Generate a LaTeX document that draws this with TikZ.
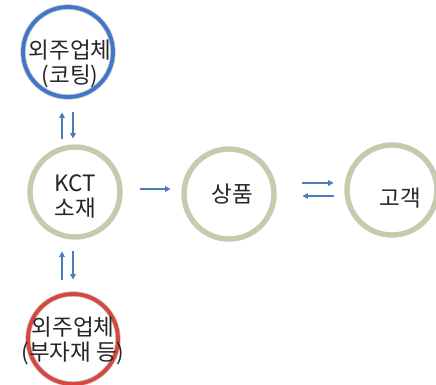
\documentclass[tikz,border=0pt]{standalone}
\usepackage{fontspec}
\setmainfont{Noto Sans CJK KR}
\usetikzlibrary{positioning,calc,arrows.meta}
\definecolor{ringblue}{HTML}{3F77CC}
\definecolor{ringred}{HTML}{D9463C}
\definecolor{ringolive}{HTML}{C8CCA6}
\definecolor{flowblue}{HTML}{4A7EBB}
\tikzset{
  ring/.style={circle,minimum size=90pt,inner sep=0pt,draw=gray!45,line width=0.8pt,
    double=#1,double distance=3.8pt,fill=white},
  ringtext/.style={font=\fontsize{22.5}{25}\selectfont,align=center,text=black!85},
  flow/.style={draw=flowblue,line width=1.4pt,-{Triangle[length=5.5pt,width=5.5pt]}},
}
\begin{document}
\begin{tikzpicture}[x=1pt,y=-1pt]
\useasboundingbox (0,0) rectangle (436,384);
% circles
\node[ring=ringblue,label={[ringtext,xshift=2pt,yshift=-12pt]center:외주업체\\(코팅)}] (coating) at (68,52) {};
\node[ring=ringolive,label={[ringtext,yshift=-4pt]center:KCT\\소재}] (kct) at (75,192) {};
\node[ring=ringolive,label={[ringtext,xshift=3pt]center:상품}] (goods) at (229,194) {};
\node[ring=ringolive,label={[ringtext,xshift=8pt,yshift=-8pt]center:고객}] (customer) at (392,190) {};
\node[ring=ringred,label={[ringtext,yshift=-2pt]center:외주업체\\(부자재 등)}] (parts) at (73,339) {};
% arrows
\draw[flow,shorten <=15pt,shorten >=8pt] (coating.south -| 73,0) to (kct.north -| 73,0);
\draw[flow,shorten <=8pt,shorten >=15pt] (kct.north -| 62,0) to (coating.south -| 62,0);
\draw[flow,shorten <=20pt,shorten >=13pt] (kct.east |- 0,189) to (goods.west |- 0,189);
\draw[flow,shorten <=28pt,shorten >=13pt] (goods.east |- 0,183) to (customer.west |- 0,183);
\draw[flow,shorten <=13pt,shorten >=28pt] (customer.west |- 0,196) to (goods.east |- 0,196);
\draw[flow,shorten <=14pt,shorten >=14pt] (kct.south -| 73,0) to (parts.north -| 73,0);
\draw[flow,shorten <=14pt,shorten >=14pt] (parts.north -| 62,0) to (kct.south -| 62,0);
\end{tikzpicture}
\end{document}
